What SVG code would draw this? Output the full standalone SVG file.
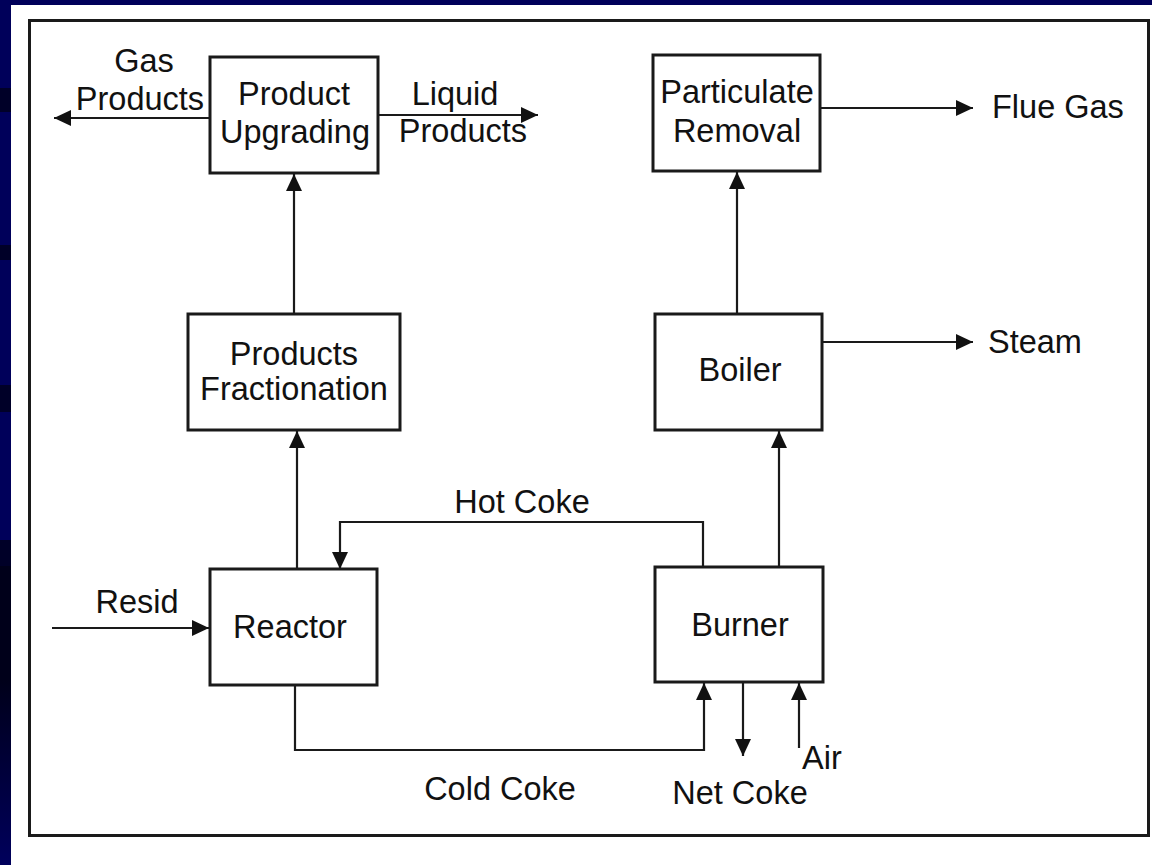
<svg xmlns="http://www.w3.org/2000/svg" width="1152" height="865" viewBox="0 0 1152 865">
  <defs>
    <linearGradient id="bottomFade" x1="0" y1="0" x2="0" y2="1">
      <stop offset="0" stop-color="#00001a"/>
      <stop offset="1" stop-color="#00005c"/>
    </linearGradient>
    <marker id="arrow" markerUnits="userSpaceOnUse" markerWidth="20" markerHeight="16" refX="17" refY="8" orient="auto">
      <path d="M0,0 L17,8 L0,16 Z" fill="#111"/>
    </marker>
    <style>
      .box { fill: #fff; stroke: #1a1a1a; stroke-width: 3; }
      .line { fill: none; stroke: #1a1a1a; stroke-width: 2.2; }
      text { font-family: "Liberation Sans", Arial, sans-serif; font-size: 32.5px; fill: #111; }
      .c { text-anchor: middle; }
    </style>
  </defs>

  <!-- background -->
  <rect x="0" y="0" width="1152" height="865" fill="#00005a"/>
  <rect x="0" y="88" width="11" height="24" fill="#000028"/>
  <rect x="0" y="245" width="11" height="15" fill="#000028"/>
  <rect x="0" y="385" width="11" height="27" fill="#000028"/>
  <rect x="0" y="540" width="11" height="26" fill="#000028"/>
  <rect x="0" y="566" width="11" height="114" fill="#00001a"/>
  <rect x="0" y="680" width="11" height="185" fill="url(#bottomFade)"/>
  <rect x="11" y="5" width="1141" height="860" fill="#fff"/>
  <rect x="29.5" y="20.5" width="1119" height="815" fill="none" stroke="#1a1a1a" stroke-width="3"/>

  <!-- connectors -->
  <g id="connectors">
    <line class="line" x1="210" y1="118" x2="54" y2="118" marker-end="url(#arrow)"/>
    <line class="line" x1="378" y1="115" x2="538" y2="115" marker-end="url(#arrow)"/>
    <line class="line" x1="821" y1="108" x2="973" y2="108" marker-end="url(#arrow)"/>
    <line class="line" x1="823" y1="342" x2="973" y2="342" marker-end="url(#arrow)"/>
    <line class="line" x1="294" y1="314" x2="294" y2="174" marker-end="url(#arrow)"/>
    <line class="line" x1="737" y1="314" x2="737" y2="172" marker-end="url(#arrow)"/>
    <line class="line" x1="297" y1="569" x2="297" y2="431" marker-end="url(#arrow)"/>
    <line class="line" x1="779" y1="567" x2="779" y2="431" marker-end="url(#arrow)"/>
    <polyline class="line" points="703,567 703,522 340,522 340,569" marker-end="url(#arrow)"/>
    <polyline class="line" points="295,685 295,750 704,750 704,683" marker-end="url(#arrow)"/>
    <line class="line" x1="743" y1="683" x2="743" y2="756" marker-end="url(#arrow)"/>
    <line class="line" x1="799" y1="748" x2="799" y2="683" stroke="#555" marker-end="url(#arrow)"/>
    <line class="line" x1="52" y1="628" x2="209" y2="628" marker-end="url(#arrow)"/>
  </g>

  <!-- nodes -->
  <g id="product-upgrading">
    <rect class="box" x="210" y="57" width="168" height="116"/>
    <text class="c" x="294" y="105">Product</text>
    <text class="c" x="295" y="143">Upgrading</text>
  </g>
  <g id="particulate-removal">
    <rect class="box" x="653" y="55" width="167" height="116"/>
    <text class="c" x="737" y="103">Particulate</text>
    <text class="c" x="737" y="142">Removal</text>
  </g>
  <g id="products-fractionation">
    <rect class="box" x="188" y="314" width="212" height="116"/>
    <text class="c" x="294" y="365">Products</text>
    <text class="c" x="294" y="400">Fractionation</text>
  </g>
  <g id="boiler">
    <rect class="box" x="655" y="314" width="167" height="116"/>
    <text class="c" x="740" y="381">Boiler</text>
  </g>
  <g id="reactor">
    <rect class="box" x="210" y="569" width="167" height="116"/>
    <text class="c" x="290" y="638">Reactor</text>
  </g>
  <g id="burner">
    <rect class="box" x="655" y="567" width="168" height="115"/>
    <text class="c" x="740" y="636">Burner</text>
  </g>

  <!-- labels -->
  <g id="labels">
    <text class="c" x="144" y="72">Gas</text>
    <text class="c" x="140" y="110">Products</text>
    <text class="c" x="455" y="105">Liquid</text>
    <text class="c" x="463" y="142">Products</text>
    <text x="992" y="118">Flue Gas</text>
    <text x="988" y="353">Steam</text>
    <text class="c" x="522" y="513">Hot Coke</text>
    <text class="c" x="137" y="613">Resid</text>
    <text x="802" y="769">Air</text>
    <text class="c" x="740" y="804">Net Coke</text>
    <text class="c" x="500" y="800">Cold Coke</text>
  </g>
</svg>
